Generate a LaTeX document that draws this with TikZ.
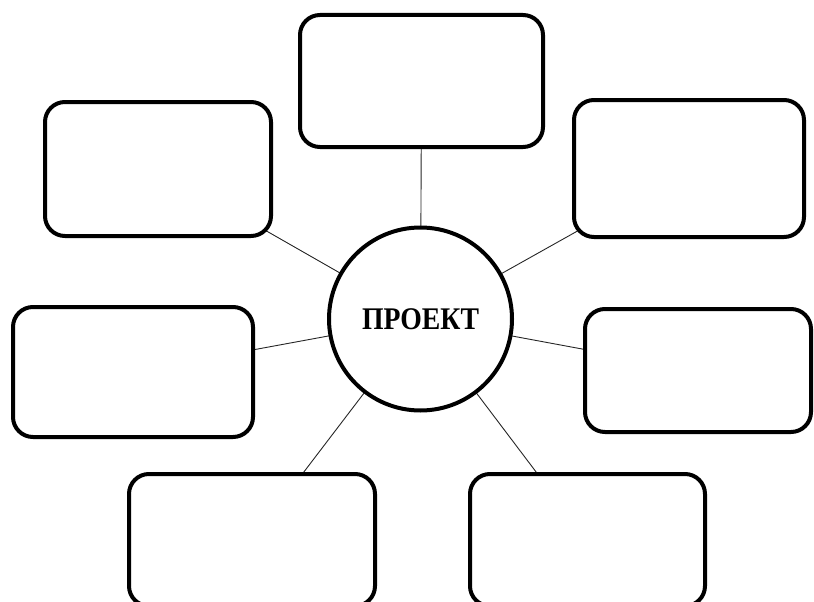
\documentclass[tikz,border=0pt]{standalone}
\usepackage{fontspec}
\setmainfont{Liberation Serif}
\usetikzlibrary{backgrounds}
\begin{document}
\begin{tikzpicture}[x=1pt,y=-1pt,
  card/.style={draw=black, line width=4pt, fill=white, rounded corners=20pt,
    inner sep=0pt, outer sep=0pt},
  hub/.style={draw=black, line width=4pt, fill=white, circle,
    minimum size=183pt, inner sep=0pt, outer sep=0pt,
    font=\fontsize{31.5}{33}\selectfont\bfseries},
  spoke/.style={draw=black!85, line width=0.9pt}]
  \useasboundingbox (0,0) rectangle (814,602);

  % central circle
  \node[hub] (c) at (420.5,319) {\scalebox{0.88}[1]{ПРОЕКТ}};

  % surrounding cards
  \node[card, minimum width=243pt, minimum height=132pt] (t)  at (421.5,81) {};
  \node[card, minimum width=226pt, minimum height=134pt] (tl) at (158,169) {};
  \node[card, minimum width=230pt, minimum height=137pt] (tr) at (689,168.5) {};
  \node[card, minimum width=240pt, minimum height=130pt] (ml) at (133,372) {};
  \node[card, minimum width=226pt, minimum height=123pt] (mr) at (698,370.5) {};
  \node[card, minimum width=246pt, minimum height=132pt] (bl) at (252,540) {};
  \node[card, minimum width=235pt, minimum height=132pt] (br) at (587.5,540) {};

  % spokes, drawn behind the filled shapes
  \begin{scope}[on background layer]
    \foreach \n in {t,tl,tr,ml,mr,bl,br}
      \draw[spoke] (c.center) -- (\n.center);
  \end{scope}
\end{tikzpicture}
\end{document}
